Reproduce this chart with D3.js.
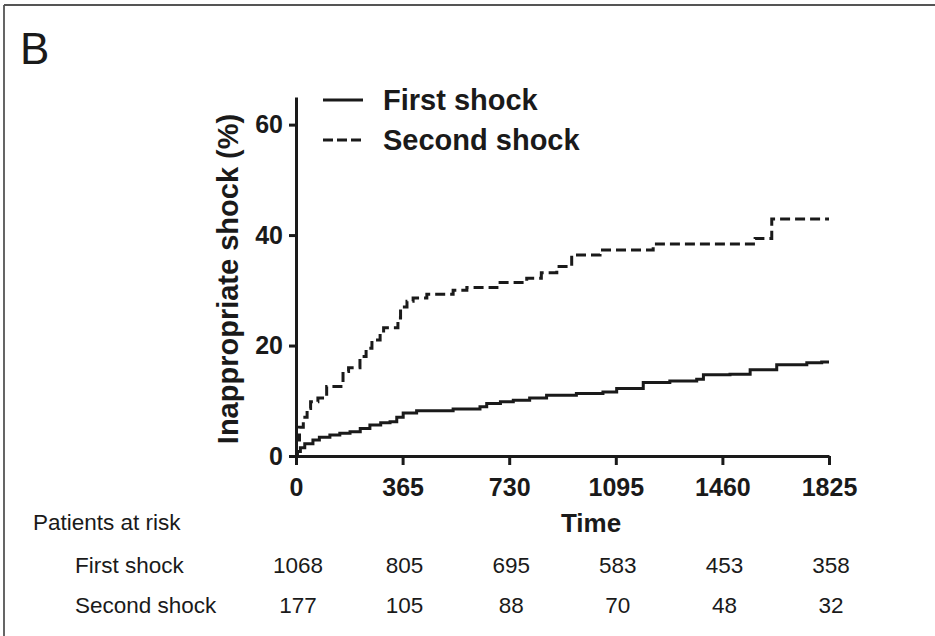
<!DOCTYPE html>
<html><head><meta charset="utf-8">
<script src="https://cdn.jsdelivr.net/npm/d3@7"></script>
<style>body{margin:0;background:#fff}svg{display:block}text{font-family:"Liberation Sans",Arial,sans-serif;fill:#1a1a1a}</style>
</head><body>
<svg id="c" width="935" height="636"></svg>
<script>
// ---- data ----
const xTicks = [0, 365, 730, 1095, 1460, 1825];
const yTicks = [0, 20, 40, 60];
const seriesNames = ["First shock", "Second shock"];
const firstShock = [
  [0,0],[5,0.8],[15,1.5],[30,2.2],[58,2.9],[80,3.4],[116,3.8],[150,4.1],[185,4.4],[220,5.0],
  [253,5.6],[290,6.0],[322,6.2],[345,7.0],[367,7.8],[413,8.2],[538,8.5],[630,8.9],[653,9.5],
  [700,9.8],[744,10.1],[800,10.5],[858,11.0],[960,11.3],[1051,11.6],[1098,12.2],[1189,13.3],
  [1280,13.6],[1372,13.9],[1395,14.7],[1486,14.8],[1555,15.6],[1646,16.5],[1749,16.9],[1800,17.0],[1825,17.0]
];
const secondShock = [
  [0,2.9],[12,5.2],[25,7.0],[38,8.6],[50,9.8],[75,10.5],[105,12.6],[161,15.3],[180,16.0],[219,18.0],
  [240,19.5],[260,21.0],[288,22.3],[300,23.2],[349,25.0],[358,27.0],[380,28.0],[401,28.6],[448,29.3],
  [538,30.0],[585,30.5],[688,31.4],[790,32.2],[840,33.2],[893,34.3],[944,36.4],[1041,37.3],[1223,38.4],
  [1572,39.4],[1629,42.9],[1825,42.9]
];
const riskLabels = ["First shock", "Second shock"];
const riskFirst = [1068, 805, 695, 583, 453, 358];
const riskSecond = [177, 105, 88, 70, 48, 32];

const svg = d3.select("#c");
// border (top & left)
svg.append("line").attr("x1",4).attr("y1",5).attr("x2",935).attr("y2",5).attr("stroke","#555").attr("stroke-width",1.8);
svg.append("line").attr("x1",4).attr("y1",5).attr("x2",4).attr("y2",636).attr("stroke","#555").attr("stroke-width",1.8);

svg.append("text").attr("x",20).attr("y",64).attr("font-size",44).text("B");

const x = d3.scaleLinear().domain([0,1825]).range([296,829]);
const y = d3.scaleLinear().domain([0,65]).range([456,97]);

const xAxis = svg.append("g").attr("transform","translate(0,456)")
  .call(d3.axisBottom(x).tickValues(xTicks).tickFormat(d3.format("d")).tickSize(9).tickSizeOuter(0).tickPadding(13));
const yAxis = svg.append("g").attr("transform","translate(296,0)")
  .call(d3.axisLeft(y).tickValues(yTicks).tickSize(7).tickSizeOuter(0).tickPadding(6));
[xAxis,yAxis].forEach(a=>{
  a.select(".domain").attr("stroke","#1a1a1a").attr("stroke-width",3);
  a.selectAll(".tick line").attr("stroke","#1a1a1a").attr("stroke-width",3);
  a.selectAll(".tick text").attr("font-size",25).attr("font-weight","bold").attr("fill","#1a1a1a")
   .attr("font-family",'"Liberation Sans",Arial,sans-serif');
});

const line = d3.line().x(d=>x(d[0])).y(d=>y(d[1])).curve(d3.curveStepAfter);
svg.append("path").datum(firstShock).attr("d",line).attr("fill","none").attr("stroke","#1a1a1a").attr("stroke-width",3);
svg.append("path").datum(secondShock).attr("d",line).attr("fill","none").attr("stroke","#1a1a1a").attr("stroke-width",3).attr("stroke-dasharray","10,5");

// axis titles
svg.append("text").attr("transform","translate(238,279) rotate(-90)").attr("text-anchor","middle")
  .attr("font-size",29).attr("font-weight","bold").text("Inappropriate shock (%)");
svg.append("text").attr("x",591).attr("y",532).attr("text-anchor","middle")
  .attr("font-size",26).attr("font-weight","bold").text("Time");

// legend
const legY = [100, 140];
seriesNames.forEach((n,i)=>{
  svg.append("line").attr("x1",323).attr("x2",363).attr("y1",legY[i]).attr("y2",legY[i])
    .attr("stroke","#1a1a1a").attr("stroke-width",3).attr("stroke-dasharray", i? "10,4" : null);
  svg.append("text").attr("x",383).attr("y",legY[i]+10).attr("font-size",29).attr("font-weight","bold").text(n);
});

// risk table
svg.append("text").attr("x",33).attr("y",530).attr("font-size",22.5).text("Patients at risk");
const rowY = [573, 613];
[riskFirst, riskSecond].forEach((row,i)=>{
  svg.append("text").attr("x",75).attr("y",rowY[i]).attr("font-size",22.5).text(riskLabels[i]);
  svg.selectAll(null).data(row).enter().append("text")
    .attr("x",(d,j)=>x(xTicks[j])+2).attr("y",rowY[i]).attr("text-anchor","middle").attr("font-size",22.5).text(d=>d);
});
</script>
</body></html>
